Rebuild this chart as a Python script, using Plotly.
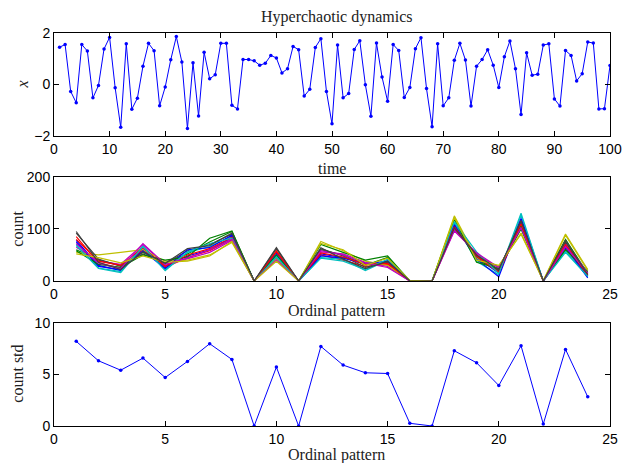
import plotly.graph_objects as go

# ---------------- data ----------------
time = list(range(1, 101))
x_values = [1.45, 1.55, -0.27, -0.71, 1.55, 1.30, -0.52, -0.04, 1.38, 1.83,
            -0.13, -1.66, 1.58, -0.96, -0.53, 0.71, 1.60, 1.31, -0.83, -0.10,
            0.96, 1.86, 0.87, -1.71, 0.84, -1.22, 1.25, 0.22, 0.38, 1.60,
            1.60, -0.81, -0.95, 0.97, 0.97, 0.92, 0.75, 0.82, 1.13, 1.03,
            0.45, 0.61, 1.48, 1.35, -0.45, -0.19, 1.44, 1.78, -0.27, -1.53,
            1.53, -0.52, -0.35, 1.36, 1.70, -0.01, -1.23, 1.61, 0.29, -0.65,
            1.55, 1.32, -0.51, -0.12, 1.39, 1.82, -0.16, -1.64, 1.58, -0.83,
            -0.52, 0.94, 1.60, 0.95, -0.84, 0.71, 0.97, 1.35, 0.75, -0.12,
            1.08, 1.69, 0.61, -1.17, 1.23, 0.36, 0.40, 1.53, 1.58, -0.56,
            -0.84, 1.32, 1.13, 0.14, 0.42, 1.65, 1.61, -0.95, -0.94, 0.74]

patterns = list(range(1, 25))

count_r01 = [78, 30, 20, 62, 28, 48, 60, 83, 0, 50, 0, 52, 45, 35, 33, 0, 0, 110, 45, 15, 112, 0, 68, 10]
count_r02 = [60, 40, 30, 55, 35, 52, 75, 95, 0, 46, 0, 60, 50, 30, 45, 0, 0, 120, 40, 22, 100, 0, 80, 14]
count_r03 = [85, 35, 25, 60, 26, 45, 58, 80, 0, 58, 0, 50, 40, 28, 32, 0, 0, 100, 50, 18, 118, 0, 62, 12]
count_r04 = [70, 25, 18, 68, 22, 55, 66, 86, 0, 48, 0, 45, 42, 20, 40, 0, 0, 112, 38, 12, 126, 0, 58, 8]
count_r05 = [65, 38, 32, 70, 30, 42, 55, 78, 0, 44, 0, 56, 52, 36, 28, 0, 0, 98, 52, 25, 105, 0, 72, 16]
count_r06 = [55, 50, 55, 60, 38, 40, 50, 74, 0, 42, 0, 76, 58, 38, 30, 0, 0, 125, 44, 28, 92, 0, 88, 20]
count_r07 = [92, 42, 28, 52, 33, 58, 70, 90, 0, 62, 0, 62, 48, 26, 36, 0, 0, 105, 47, 20, 115, 0, 75, 10]
count_r08 = [75, 28, 22, 58, 24, 60, 64, 88, 0, 54, 0, 48, 44, 33, 38, 0, 0, 108, 42, 8, 120, 0, 65, 6]
count_r09 = [58, 32, 26, 50, 40, 46, 82, 96, 0, 50, 0, 70, 55, 40, 48, 0, 0, 118, 36, 24, 108, 0, 60, 18]
count_r10 = [80, 38, 30, 64, 28, 50, 62, 84, 0, 56, 0, 54, 46, 32, 34, 0, 0, 104, 48, 16, 110, 0, 70, 12]
count_r11 = [68, 24, 16, 66, 20, 56, 72, 82, 0, 46, 0, 44, 38, 22, 42, 0, 0, 114, 56, 14, 130, 0, 55, 9]
count_r12 = [72, 34, 24, 72, 32, 44, 60, 80, 0, 40, 0, 58, 50, 34, 26, 0, 0, 96, 54, 26, 102, 0, 66, 15]
count_r13 = [52, 45, 35, 48, 36, 38, 48, 76, 0, 38, 0, 72, 60, 30, 44, 1, 0, 122, 40, 30, 90, 1, 90, 22]
count_r14 = [95, 36, 22, 56, 34, 62, 68, 92, 0, 64, 0, 64, 42, 24, 38, 0, 0, 102, 50, 22, 116, 0, 78, 12]
count_rows = [count_r01, count_r02, count_r03, count_r04, count_r05, count_r06, count_r07,
              count_r08, count_r09, count_r10, count_r11, count_r12, count_r13, count_r14]

count_std = [8.19, 6.31, 5.40, 6.57, 4.69, 6.25, 7.96, 6.44, 0.0, 5.70, 0.0, 7.70,
             5.89, 5.15, 5.08, 0.26, 0.0, 7.28, 6.12, 3.92, 7.77, 0.19, 7.41, 2.82]

x_ticks_top = [0, 10, 20, 30, 40, 50, 60, 70, 80, 90, 100]
y_ticks_top = [-2, 0, 2]
x_ticks_pat = [0, 5, 10, 15, 20, 25]
y_ticks_mid = [0, 100, 200]
y_ticks_bot = [0, 5, 10]

line_colors = ["rgb(0,0,255)", "rgb(0,128,0)", "rgb(255,0,0)", "rgb(0,191,191)",
               "rgb(191,0,191)", "rgb(191,191,0)", "rgb(64,64,64)"]

# ---------------- figure ----------------
fig = go.Figure()

fig.add_trace(go.Scatter(x=time, y=x_values, mode="lines+markers",
                         line=dict(color="rgb(0,0,255)", width=1),
                         marker=dict(color="rgb(0,0,255)", size=3.5),
                         xaxis="x", yaxis="y", showlegend=False))

for i, row in enumerate(count_rows):
    fig.add_trace(go.Scatter(x=patterns, y=row, mode="lines",
                             line=dict(color=line_colors[i % len(line_colors)], width=1.2),
                             xaxis="x2", yaxis="y2", showlegend=False))

fig.add_trace(go.Scatter(x=patterns, y=count_std, mode="lines+markers",
                         line=dict(color="rgb(0,0,255)", width=1),
                         marker=dict(color="rgb(0,0,255)", size=3.5),
                         xaxis="x3", yaxis="y3", showlegend=False))

tick_font = dict(family="Liberation Sans, Arial, sans-serif", size=14, color="black")
label_font = dict(family="Liberation Serif, Times New Roman, serif", size=16, color="#222222")

def ax(**kw):
    base = dict(showline=True, linecolor="black", linewidth=1, mirror="ticks",
                ticks="inside", ticklen=5, tickcolor="black", tickwidth=1,
                showgrid=False, zeroline=False, tickfont=tick_font, fixedrange=True)
    base.update(kw)
    return base

W, H = 634, 463
L, R, T, B = 54, 14, 33, 37
pw, ph = W - L - R, H - T - B

def px(xp, yp):
    return (xp - L) / pw, (H - B - yp) / ph

anns = []
for text, xp, yp, angle, italic in [
    ("Hyperchaotic dynamics", 342, 17, 0, False),
    ("time", 337, 168, 0, False),
    ("Ordinal pattern", 342, 311, 0, False),
    ("Ordinal pattern", 342, 455, 0, False),
    ("x", 22, 85, -90, True),
    ("count", 16, 229, -90, False),
    ("count std", 16, 374, -90, False),
]:
    xf, yf = px(xp, yp)
    f = dict(label_font)
    if italic:
        f["style"] = "italic"
    anns.append(dict(text=text, x=xf, y=yf, xref="paper", yref="paper",
                     showarrow=False, font=f, textangle=angle,
                     xanchor="center", yanchor="middle"))

fig.update_layout(
    width=W, height=H,
    margin=dict(l=L, r=R, t=T, b=B),
    paper_bgcolor="white", plot_bgcolor="white",
    xaxis=ax(domain=[0, 1], range=[0, 100], tickvals=x_ticks_top, anchor="y"),
    yaxis=ax(domain=[0.738, 1.0], range=[-2, 2], tickvals=y_ticks_top, anchor="x"),
    xaxis2=ax(domain=[0, 1], range=[0, 25], tickvals=x_ticks_pat, anchor="y2"),
    yaxis2=ax(domain=[0.369, 0.634], range=[0, 200], tickvals=y_ticks_mid, anchor="x2"),
    xaxis3=ax(domain=[0, 1], range=[0, 25], tickvals=x_ticks_pat, anchor="y3"),
    yaxis3=ax(domain=[0.0, 0.263], range=[0, 10], tickvals=y_ticks_bot, anchor="x3"),
    annotations=anns,
)

fig.write_html("out.html", config={"displayModeBar": False, "staticPlot": True})

# remove default page margin so the figure sits at the window's top-left corner
with open("out.html", "r", encoding="utf-8") as fh:
    html = fh.read()
html = html.replace("<head>", "<head><style>html,body{margin:0;padding:0;overflow:hidden;}</style>", 1)
with open("out.html", "w", encoding="utf-8") as fh:
    fh.write(html)
